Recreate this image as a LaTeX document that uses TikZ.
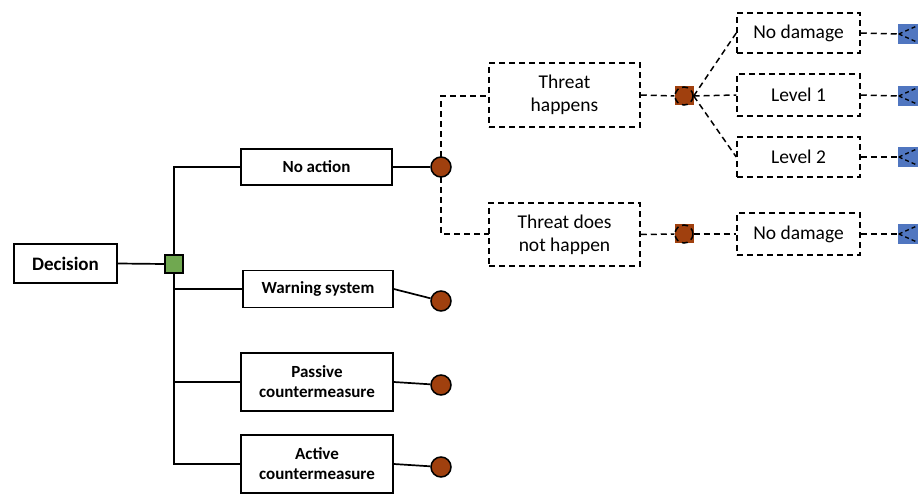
\documentclass[tikz,border=0pt]{standalone}
\usepackage{fontspec}
\setmainfont{Carlito}
\begin{document}
\begin{tikzpicture}[x=1pt,y=-1pt,
  solidbox/.style={draw=black,line width=1.6pt,fill=white,font=\fontsize{17}{20}\selectfont\bfseries,align=center,inner sep=0pt},
  dashbox/.style={draw=black,line width=1.5pt,dash pattern=on 6pt off 4pt,fill=white,font=\fontsize{19.5}{23}\selectfont,align=center,inner sep=0pt},
  conn/.style={line width=1.7pt,black},
  dconn/.style={line width=1.5pt,black,dash pattern=on 6pt off 4pt},
  decsq/.style={draw=black,line width=1.6pt,fill=decgreen,minimum size=18pt,inner sep=0pt},
  chcirc/.style={circle,draw=black,line width=1.5pt,fill=chbrown,minimum size=20pt,inner sep=0pt},
  chsq/.style={fill=chbrown,minimum size=19pt,inner sep=0pt},
  endsq/.style={fill=endblue,minimum size=20pt,inner sep=0pt}
]
\definecolor{decgreen}{RGB}{112,168,80}
\definecolor{chbrown}{RGB}{160,64,14}
\definecolor{endblue}{RGB}{80,118,192}
\useasboundingbox (0,0) rectangle (922,494);

% decision root and its branches
\node[solidbox,minimum width=103pt,minimum height=39pt,font=\fontsize{19}{22}\selectfont\bfseries] (dec) at (65.5,263.5) {Decision};
\node[decsq] (dsq) at (174,264) {};
\node[solidbox,minimum width=151pt,minimum height=36pt] (noact) at (316.5,167) {No action};
\node[solidbox,minimum width=150pt,minimum height=37pt] (warn) at (318,289) {Warning system};
\node[solidbox,minimum width=152pt,minimum height=58pt] (pass) at (317,382) {Passive\\countermeasure};
\node[solidbox,minimum width=152pt,minimum height=58pt] (act) at (317,464) {Active\\countermeasure};

\draw[conn] (dec.east) -- (dsq.west);
\draw[conn] (dsq.north) |- (noact.west);
\draw[conn] (dsq.south) |- (act.west);
\draw[conn] (dsq.south |- warn.west) -- (warn.west);
\draw[conn] (dsq.south |- pass.west) -- (pass.west);

% outcome branches of the "No action" chance node
\coordinate (c1p) at (441,167);
\draw[dconn] (c1p) |- (564,96);
\draw[dconn] (c1p) |- (564,234);

\node[dashbox,minimum width=151pt,minimum height=64pt] (th) at (564.5,95) {Threat\\happens};
\node[dashbox,minimum width=151pt,minimum height=63pt] (thn) at (564.5,234.5) {Threat does\\not happen};

% chance nodes after each option
\node[chcirc] (c1) at (441,167) {};
\node[chcirc] (c2) at (441,301) {};
\node[chcirc] (c3) at (441,385) {};
\node[chcirc] (c4) at (441,467) {};

\draw[conn] (noact.east) -- (c1);
\draw[conn] (warn.east) -- (c2);
\draw[conn] (pass.east) -- (c3);
\draw[conn] (act.east) -- (c4);

% damage chance nodes
\node[chsq] (ch1) at (684,96) {};
\node[chsq] (ch2) at (684,234) {};
\draw[dconn] (ch1) circle (9pt);
\draw[dconn] (ch2) circle (9pt);

\node[dashbox,minimum width=123pt,minimum height=40pt] (nd1) at (798.5,33) {No damage};
\node[dashbox,minimum width=123pt,minimum height=42pt] (l1) at (798.5,95) {Level 1};
\node[dashbox,minimum width=123pt,minimum height=40pt] (l2) at (798.5,157) {Level 2};
\node[dashbox,minimum width=123pt,minimum height=42pt] (nd2) at (798.5,234) {No damage};

\draw[dconn] (th.east) -- (ch1.west);
\draw[dconn] (thn.east) -- (ch2.west);
\draw[dconn] (ch1.east) -- (nd1.west);
\draw[dconn] (ch1.east) -- (l1.west);
\draw[dconn] (ch1.east) -- (l2.west);
\draw[dconn] (ch2.east) -- (nd2.west);

% terminal nodes
\foreach \n/\y in {t1/34,t2/96,t3/157,t4/234}{
  \node[endsq] (\n) at (908,\y) {};
  \draw[dconn,line width=1.3pt,dash pattern=on 4pt off 3pt] (\n.west) ++(1,0) -- ++(18,-8) (\n.west) ++(1,0) -- ++(18,8);
}
\draw[dconn] (nd1.east) -- (t1.west);
\draw[dconn] (l1.east) -- (t2.west);
\draw[dconn] (l2.east) -- (t3.west);
\draw[dconn] (nd2.east) -- (t4.west);
\end{tikzpicture}
\end{document}
